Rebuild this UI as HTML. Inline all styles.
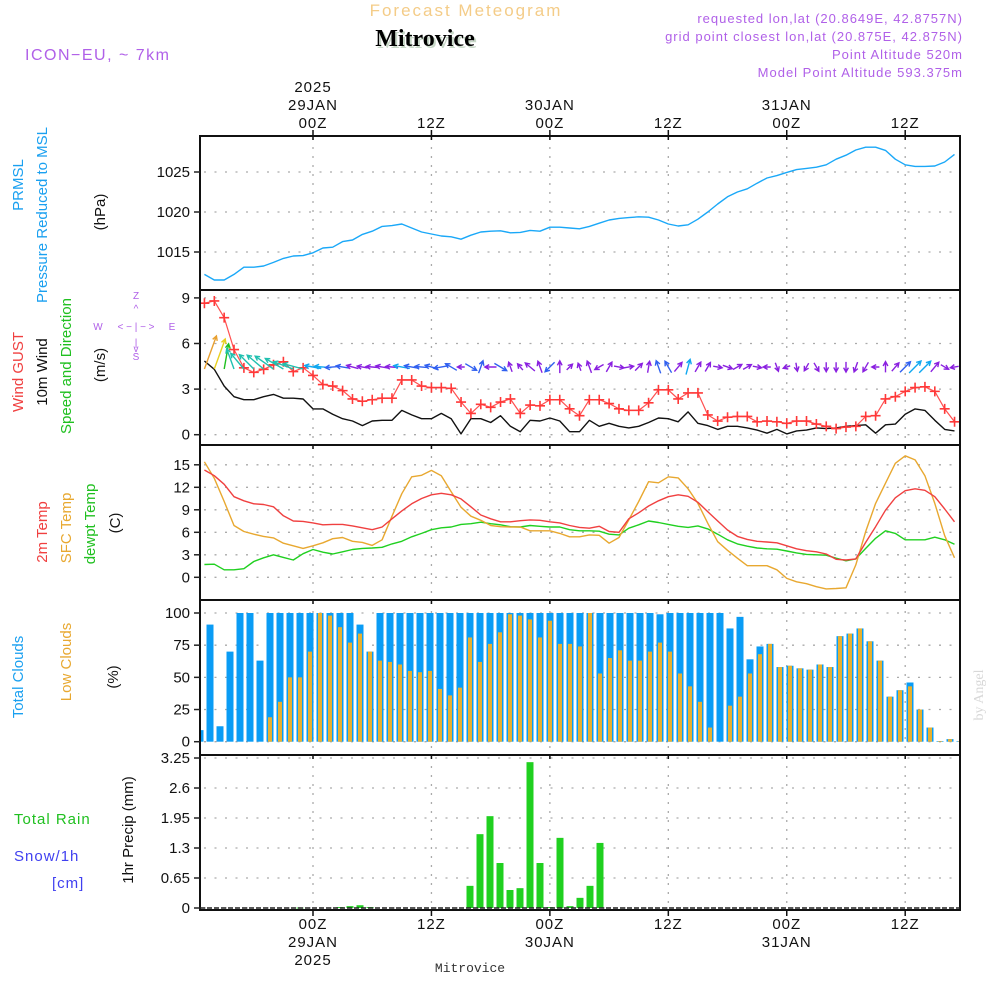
<!DOCTYPE html>
<html><head><meta charset="utf-8"><title>Forecast Meteogram Mitrovice</title>
<style>
html,body{margin:0;padding:0;background:#fff;}
svg{display:block;font-family:"Liberation Sans",sans-serif;}
</style></head>
<body>
<svg id="chart" width="1000" height="1000" viewBox="0 0 1000 1000" xmlns="http://www.w3.org/2000/svg">
  <text x="466" y="16" text-anchor="middle" font-size="17" letter-spacing="2" fill="#f4cc88">Forecast Meteogram</text>
  <text x="427" y="48" text-anchor="middle" font-size="24" font-weight="bold" font-family="Liberation Serif, serif" fill="#c8d8c8">Mitrovice</text>
  <text x="425" y="46" text-anchor="middle" font-size="24" font-weight="bold" font-family="Liberation Serif, serif" fill="#000">Mitrovice</text>
  <text x="25" y="60" font-size="16" letter-spacing="1.5" fill="#b060e8">ICON−EU, ~ 7km</text>
  <g font-size="13" letter-spacing="1" fill="#b060e8" text-anchor="end">
    <text x="963" y="23">requested lon,lat (20.8649E, 42.8757N)</text>
    <text x="963" y="41">grid point closest lon,lat (20.875E, 42.875N)</text>
    <text x="963" y="59">Point Altitude 520m</text>
    <text x="963" y="77">Model Point Altitude 593.375m</text>
  </g>
  <g id="grid"></g>
  <g id="marks"></g>
  <g id="frames"></g>
  <g id="axes" font-size="15" fill="#111"></g>

  <g font-size="15">
    <text transform="translate(23,185) rotate(-90)" text-anchor="middle" fill="#1aa0f0">PRMSL</text>
    <text transform="translate(47,215) rotate(-90)" text-anchor="middle" fill="#1aa0f0">Pressure Reduced to MSL</text>
    <text transform="translate(105,212) rotate(-90)" text-anchor="middle" fill="#111">(hPa)</text>
    <text transform="translate(23,372) rotate(-90)" text-anchor="middle" fill="#f04040">Wind GUST</text>
    <text transform="translate(47,372) rotate(-90)" text-anchor="middle" fill="#111">10m Wind</text>
    <text transform="translate(71,366) rotate(-90)" text-anchor="middle" fill="#20c020">Speed and Direction</text>
    <text transform="translate(105,365) rotate(-90)" text-anchor="middle" fill="#111">(m/s)</text>
    <text transform="translate(47,532) rotate(-90)" text-anchor="middle" fill="#f04040">2m Temp</text>
    <text transform="translate(71,528) rotate(-90)" text-anchor="middle" fill="#e8a830">SFC Temp</text>
    <text transform="translate(95,524) rotate(-90)" text-anchor="middle" fill="#20c020">dewpt Temp</text>
    <text transform="translate(120,523) rotate(-90)" text-anchor="middle" fill="#111">(C)</text>
    <text transform="translate(23,677) rotate(-90)" text-anchor="middle" fill="#1aa0f0">Total Clouds</text>
    <text transform="translate(71,662) rotate(-90)" text-anchor="middle" fill="#e8a830">Low Clouds</text>
    <text transform="translate(118,677) rotate(-90)" text-anchor="middle" fill="#111">(%)</text>
    <text x="14" y="824" fill="#20c020" letter-spacing="1">Total  Rain</text>
    <text x="14" y="861" fill="#4040f0" letter-spacing="1">Snow/1h</text>
    <text x="52" y="888" fill="#4040f0" letter-spacing="1">[cm]</text>
    <text transform="translate(133,830) rotate(-90)" text-anchor="middle" fill="#111">1hr Precip (mm)</text>
  </g>
  <g font-size="10" fill="#b060e8" text-anchor="middle">
    <text x="136" y="299">Z</text>
    <text x="136" y="312">^</text>
    <text x="98" y="330">W</text>
    <text x="136" y="330">&lt; − | − &gt;</text>
    <text x="172" y="330">E</text>
    <text x="136" y="346">|</text>
    <text x="136" y="352">v</text>
    <text x="136" y="360">S</text>
  </g>
  <text transform="translate(983,695) rotate(-90)" text-anchor="middle" font-size="14" font-family="Liberation Serif, serif" fill="#d8d8d8">by Angel</text>
  <text x="470" y="972" text-anchor="middle" font-size="13" font-family="Liberation Mono, monospace" fill="#333">Mitrovice</text>
</svg>
<script>
const pressure = [1012.2,1011.5,1011.5,1012.2,1013.1,1013.1,1013.25,1013.7,1014.2,1014.5,1014.55,1014.9,1015.5,1015.6,1016.3,1016.5,1017.2,1017.6,1018.2,1018.3,1018.5,1018.0,1017.5,1017.25,1017.0,1016.9,1016.6,1017.1,1017.5,1017.6,1017.65,1017.4,1017.45,1017.7,1017.6,1018.1,1018.1,1018.0,1017.9,1018.2,1018.6,1019.0,1019.2,1019.3,1019.4,1019.35,1019.0,1018.5,1018.25,1018.4,1019.1,1020.0,1021.0,1021.9,1022.5,1022.9,1023.6,1024.25,1024.55,1024.95,1025.3,1025.45,1025.6,1025.9,1026.6,1027.1,1027.75,1028.1,1028.1,1027.7,1026.6,1025.9,1025.7,1025.7,1025.75,1026.25,1027.2];
const windGust = [8.65,8.8,7.7,5.6,4.4,4.1,4.3,4.6,4.8,4.15,4.4,3.9,3.3,3.2,2.9,2.35,2.2,2.3,2.4,2.4,3.6,3.6,3.2,3.1,3.1,3.05,2.15,1.4,2.0,1.8,2.15,2.35,1.4,1.95,1.9,2.3,2.3,1.7,1.25,2.3,2.3,2.05,1.7,1.6,1.6,2.1,2.95,2.95,2.35,2.75,2.75,1.3,0.9,1.15,1.2,1.2,0.85,0.9,0.85,0.75,0.9,0.9,0.7,0.55,0.4,0.5,0.55,1.2,1.25,2.35,2.5,2.85,3.1,3.15,2.85,1.7,0.85];
const windSpeed = [4.85,4.3,3.2,2.5,2.3,2.3,2.5,2.65,2.4,2.4,2.35,1.7,1.7,1.35,1.05,0.9,0.6,0.9,0.95,0.95,1.6,1.3,1.05,1.05,1.4,1.05,0.05,1.05,1.05,0.8,1.25,0.55,0.2,0.95,0.9,1.1,0.9,0.2,0.2,0.95,0.55,0.75,0.55,0.45,0.55,0.8,1.1,1.05,0.85,1.5,0.75,0.6,0.35,0.55,0.55,0.45,0.3,0.1,0.35,0.05,0.25,0.3,0.45,0.4,0.45,0.55,0.6,0.65,0.1,0.65,0.7,1.35,1.7,1.6,0.95,0.35,0.25];
const windDir = [20,20,10,-20,-40,-45,-50,-55,-60,-70,-75,-80,-85,-95,-80,-75,-80,-85,-80,-85,-80,-80,-85,-75,-100,-60,-90,120,20,-90,120,-20,-40,-50,-20,-135,0,45,-20,-20,-120,30,100,80,45,10,-20,-30,40,15,30,30,100,110,60,60,100,-90,160,-110,170,-150,150,180,180,180,-160,-150,-90,0,40,45,45,45,40,120,-100];
const temp2m = [14.3,13.55,12.4,10.75,10.2,9.8,9.7,9.4,8.2,7.5,7.45,7.25,7.0,7.05,7.05,6.85,6.6,6.35,6.7,7.8,8.85,9.8,10.5,11.0,11.2,11.0,10.45,9.4,8.3,7.8,7.4,7.4,7.55,7.65,7.6,7.4,7.25,6.9,6.65,6.55,6.8,6.1,6.0,7.8,8.6,9.5,10.2,10.75,11.0,10.8,10.0,8.75,7.5,6.3,5.45,5.05,4.8,4.7,4.6,4.2,3.8,3.55,3.4,3.1,2.4,2.3,2.45,4.65,6.75,8.95,10.6,11.55,11.8,11.6,10.75,9.1,7.4];
const tempSfc = [15.4,13.2,10.1,6.9,6.1,5.75,5.45,5.25,4.55,4.2,3.85,4.2,4.6,5.15,5.3,4.8,4.65,4.25,5.0,8.15,11.15,13.4,13.6,14.25,13.55,11.4,9.35,8.15,7.6,6.9,6.75,6.7,6.7,6.2,6.2,6.2,5.85,5.4,5.4,5.65,5.6,4.55,5.3,7.65,10.1,12.75,12.6,13.4,13.25,11.8,9.85,7.2,4.75,3.6,2.55,1.55,1.55,1.55,1.0,-0.15,-0.6,-0.85,-1.25,-1.55,-1.5,-1.4,1.65,6.1,9.85,12.55,15.2,16.2,15.65,13.55,9.85,5.55,2.6];
const dewpoint = [1.7,1.75,1.0,1.0,1.15,2.1,2.6,3.0,2.65,2.3,3.15,3.7,3.35,3.1,3.4,3.7,3.85,3.9,4.0,4.45,4.8,5.4,5.85,6.35,6.6,6.7,7.05,7.15,7.35,7.15,7.0,6.75,6.7,6.9,6.8,6.7,6.7,6.35,6.2,6.2,6.15,5.75,5.65,6.55,7.0,7.5,7.3,7.05,6.8,6.65,6.85,6.45,5.75,5.0,4.45,4.15,3.9,3.8,3.75,3.5,3.25,3.05,3.0,2.95,2.55,2.2,2.45,3.85,5.2,6.2,5.85,5.0,5.0,5.0,5.35,5.0,4.4];
const totalClouds = [9,91,12,70,100,100,63,100,100,100,100,100,100,100,100,100,91,70,100,100,100,100,100,100,100,100,100,100,100,100,100,100,100,100,100,100,100,100,100,100,100,100,100,100,100,100,99,100,100,100,100,100,100,88,97,64,74,76,58,59,57,56,60,58,82,84,88,78,63,35,40,46,25,11,0.5,2,0.5];
const lowClouds = [0,0,0,0,0,0,0,19,31,50,50,70,100,98,89,77,84,70,63,62,60,55,54,55,41,36,42,81,62,76,85,99,98,95,81,94,76,76,74,100,53,65,71,63,63,70,77,70,53,43,31,11,0,28,35,53,68,76,58,59,57,56,60,58,82,84,88,78,63,35,40,43,25,11,0.5,2,0.5];
const precip = [0,0,0,0,0,0,0,0,0,0,0.01,0,0,0,0.02,0.04,0.06,0.02,0,0,0,0,0,0,0,0,0,0.48,1.6,1.99,0.975,0.39,0.43,3.16,0.975,0.02,1.52,0.04,0.22,0.48,1.41,0,0,0,0,0,0,0,0,0,0,0,0,0,0,0,0,0,0,0,0,0,0,0,0,0,0,0,0,0,0,0,0,0,0,0,0];
const firstHour = -11;
const pressureTicks = [1015,1020,1025];
const windTicks = [0,3,6,9];
const tempTicks = [0,3,6,9,12,15];
const cloudTicks = [0,25,50,75,100];
const precipTicks = [0,0.65,1.3,1.95,2.6,3.25];
const precipTickLabels = ["0","0.65","1.3","1.95","2.6","3.25"];
const timeTickHours = [0,12,24,36,48,60];
const timeTickLabels = ["00Z","12Z","00Z","12Z","00Z","12Z"];
const dateLabels = {0:["29JAN","2025"],24:["30JAN"],48:["31JAN"]};

const NS = "http://www.w3.org/2000/svg";
const X0 = 200, X1 = 960;
const xHour = h => 313 + 9.87 * h;
const xPoint = j => xHour(firstHour + j);
const xBar = i => 200 + 10 * i;
const yP = p => 172 + (1025 - p) * 8;
const yW = v => 434.7 - 15.2 * v;
const yT = t => 577.3 - 7.5 * t;
const yC = c => 741.7 - 1.287 * c;
const yR = r => 908 - 46.15 * r;
const panels = [[136,290],[290,445],[445,600],[600,755],[755,910]];

function el(tag, attrs, parent) {
  const e = document.createElementNS(NS, tag);
  for (const k in attrs) e.setAttribute(k, attrs[k]);
  parent.appendChild(e);
  return e;
}
const gGrid = document.getElementById('grid');
const gMarks = document.getElementById('marks');
const gFrames = document.getElementById('frames');
const gAxes = document.getElementById('axes');

panels.forEach(([a,b]) => {
  timeTickHours.forEach(h => {
    const l = el('line', {x1:xHour(h), x2:xHour(h), y1:a+2, y2:b-2, stroke:'#aaa', 'stroke-width':1.3, 'stroke-dasharray':'2,7'}, gGrid);
    
    
  });
});
function yAxis(ticks, yfn, labels, name) {
  ticks.forEach((t, i) => {
    const y = yfn(t);
    const g = el('line', {x1:X0+4, x2:X1-2, y1:y, y2:y, stroke:'#aaa', 'stroke-width':1.3, 'stroke-dasharray':'2,8.5'}, gGrid);
    
    
    el('line', {x1:X0-6, x2:X0, y1:y, y2:y, stroke:'#222', 'stroke-width':1.5}, gAxes);
    const tx = el('text', {x:X0-10, y:y+5, 'text-anchor':'end'}, gAxes);
    tx.textContent = labels ? labels[i] : String(t);
    
    
  });
}
yAxis(pressureTicks, yP, null, 'pressure');
yAxis(windTicks, yW, null, 'wind');
yAxis(tempTicks, yT, null, 'temp');
yAxis(cloudTicks, yC, null, 'cloud');
yAxis(precipTicks, yR, precipTickLabels, 'precip');

panels.forEach(([a,b], i) => {
  const r = el('rect', {x:X0, y:a, width:X1-X0, height:b-a, fill:'none', stroke:'#111', 'stroke-width':2}, gFrames);
  
  
  timeTickHours.forEach(h => {
    el('line', {x1:xHour(h), x2:xHour(h), y1:a, y2:a+4, stroke:'#111', 'stroke-width':1.5}, gFrames);
  });
});
el('line', {x1:X0, x2:X1, y1:908, y2:908, stroke:'#222', 'stroke-width':1.5, 'stroke-dasharray':'5,2'}, gFrames);

timeTickHours.forEach((h, i) => {
  const x = xHour(h);
  el('line', {x1:x, x2:x, y1:130, y2:136, stroke:'#111', 'stroke-width':1.5}, gAxes);
  el('line', {x1:x, x2:x, y1:910, y2:916, stroke:'#111', 'stroke-width':1.5}, gAxes);
  const t1 = el('text', {x:x, y:128, 'text-anchor':'middle', 'letter-spacing':'1'}, gAxes);
  t1.textContent = timeTickLabels[i];
  
  
  const t2 = el('text', {x:x, y:929, 'text-anchor':'middle', 'letter-spacing':'1'}, gAxes);
  t2.textContent = timeTickLabels[i];
  
  
  const d = dateLabels[h];
  if (d) {
    d.forEach((s, k) => {
      const a = el('text', {x:x, y:110 - 18*k, 'text-anchor':'middle', 'letter-spacing':'1'}, gAxes);
      a.textContent = s;
      
      
      const b = el('text', {x:x, y:947 + 18*k, 'text-anchor':'middle', 'letter-spacing':'1'}, gAxes);
      b.textContent = s;
      
      
    });
  }
});

function polyline(vals, yfn, color, name, w) {
  const pts = vals.map((v, j) => xPoint(j).toFixed(1) + ',' + yfn(v).toFixed(1)).join(' ');
  const p = el('polyline', {points:pts, fill:'none', stroke:color, 'stroke-width':w || 1.4, 'stroke-linejoin':'round'}, gMarks);
  
  
}
const defs = el('defs', {}, document.getElementById('chart'));
const cp = el('clipPath', {id:'plotclip'}, defs);
el('rect', {x:X0+1, y:136, width:X1-X0-2, height:774}, cp);
gMarks.setAttribute('clip-path', 'url(#plotclip)');

totalClouds.forEach((v, i) => {
  const y = yC(v);
  const r = el('rect', {x:xBar(i)-3.5, y:y, width:7, height:741.7-y, fill:'#0a9cf5'}, gMarks);
  
  
});
lowClouds.forEach((v, i) => {
  const y = yC(v);
  const r = el('rect', {x:xBar(i)-2, y:y, width:4, height:741.7-y, fill:'#e8b030'}, gMarks);
  
  
});
precip.forEach((v, i) => {
  if (v <= 0) return;
  const y = yR(v);
  const r = el('rect', {x:xBar(i)-3.5, y:y, width:7, height:Math.max(908-y,1), fill:'#20d020'}, gMarks);
  
  
});
polyline(pressure, yP, '#1aa8f8', 'pressure-line');
polyline(dewpoint, yT, '#20d020', 'dewpoint-line');
polyline(tempSfc, yT, '#e8a830', 'sfc-temp-line');
polyline(temp2m, yT, '#f04040', 'temp-2m-line');
polyline(windSpeed, yW, '#111', 'wind-speed-line');
polyline(windGust, yW, '#ff5050', 'wind-gust-line', 1.2);
windGust.forEach((v, j) => {
  const x = xPoint(j), y = yW(v);
  const m = el('path', {d:`M${x-5},${y}H${x+5}M${x},${y-5}V${y+5}`, stroke:'#ff3838', 'stroke-width':1.6, fill:'none'}, gMarks);
  
  
});
function arrowColor(s) {
  if (s >= 4.5) return '#e8a030';
  if (s >= 4) return '#e8d020';
  if (s >= 2.9) return '#20c020';
  if (s >= 2) return '#20c0b0';
  if (s >= 1.5) return '#10a8f0';
  if (s >= 1.0) return '#3060f0';
  return '#8a20e0';
}
windDir.forEach((d, j) => {
  const s = windSpeed[j];
  const L = 7 + 5.8 * s;
  const a = d * Math.PI / 180;
  const dx = Math.sin(a), dy = -Math.cos(a);
  let x0 = xPoint(j), y0 = 369;
  if (L <= 20) { x0 -= dx * L / 2; y0 = 367 - dy * L / 2; }
  const x1 = x0 + L * dx, y1 = y0 + L * dy;
  const h = 5, ha = 0.5;
  const b1x = x1 - h * Math.sin(a - ha), b1y = y1 + h * Math.cos(a - ha);
  const b2x = x1 - h * Math.sin(a + ha), b2y = y1 + h * Math.cos(a + ha);
  const p = el('path', {d:`M${x0.toFixed(1)},${y0.toFixed(1)}L${x1.toFixed(1)},${y1.toFixed(1)}M${b1x.toFixed(1)},${b1y.toFixed(1)}L${x1.toFixed(1)},${y1.toFixed(1)}L${b2x.toFixed(1)},${b2y.toFixed(1)}`, stroke:arrowColor(s), 'stroke-width':1.4, fill:'none'}, gMarks);
  
  
});
</script>
</body></html>
